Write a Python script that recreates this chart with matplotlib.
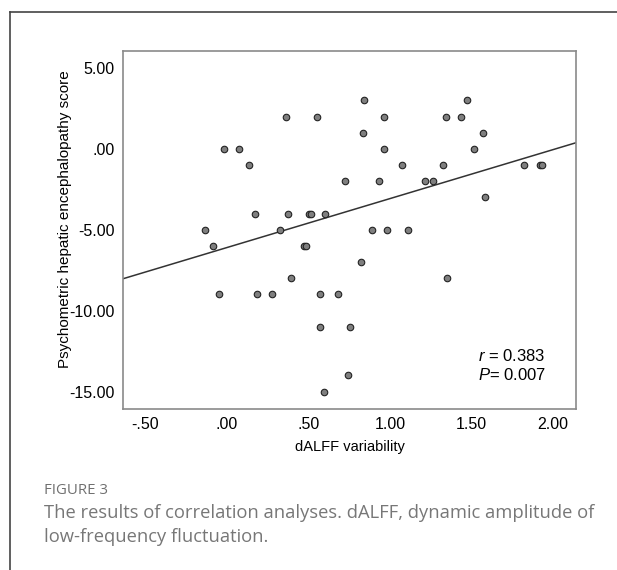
import numpy as np
import matplotlib.pyplot as plt
from matplotlib.lines import Line2D

# dALFF variability (x) vs psychometric hepatic encephalopathy score (y)
dalff = [0.842, 0.362, 0.552, 0.833, -0.017, 0.074, 0.133, 0.724,
         0.172, 0.374, 0.501, 0.513, 0.603, -0.135, 0.325, -0.086,
         0.474, 0.485, 0.822, 0.393, 1.472, 0.963, 1.344, 1.434,
         1.572, 0.963, 1.513, 1.072, 1.323, 1.822, 1.920, 1.934,
         0.934, 1.213, 1.264, 1.583, 0.891, 0.983, 1.112, 1.352,
         -0.047, 0.184, 0.274, 0.572, 0.683, 0.572, 0.753, 0.742, 0.593]
phes = [3, 2, 2, 1, 0, 0, -1, -2,
        -4, -4, -4, -4, -4, -5, -5, -6,
        -6, -6, -7, -8, 3, 2, 2, 2,
        1, 0, 0, -1, -1, -1, -1, -1,
        -2, -2, -2, -3, -5, -5, -5, -8,
        -9, -9, -9, -9, -9, -11, -11, -14, -15]

xticks = [-0.5, 0.0, 0.5, 1.0, 1.5, 2.0]
xticklabels = ['-.50', '.00', '.50', '1.00', '1.50', '2.00']
yticks = [5, 0, -5, -10, -15]
yticklabels = ['5.00', '.00', '-5.00', '-10.00', '-15.00']

plt.rcParams['font.family'] = 'Liberation Sans'
plt.rcParams['mathtext.fontset'] = 'custom'
plt.rcParams['mathtext.rm'] = 'Liberation Sans'
plt.rcParams['mathtext.it'] = 'Liberation Sans:italic'

W, H = 617, 570
fig = plt.figure(figsize=(W / 100, H / 100), dpi=100)
ax = fig.add_axes([123 / W, 1 - 408.5 / H, (576 - 123) / W, (408.5 - 50.7) / H])

xlim = (-0.638, 2.141)
ylim = (-16.05, 6.07)

# regression line
k, n = np.polyfit(dalff, phes, 1)
xs = np.array(xlim)
ax.plot(xs, k * xs + n, color='#333333', lw=1.1, zorder=2)

ax.scatter(dalff, phes, s=22, facecolor='#7f7f7f', edgecolor='#222222',
           linewidths=0.8, zorder=3)

ax.set_xlim(xlim)
ax.set_ylim(ylim)
ax.set_xticks(xticks)
ax.set_xticklabels(xticklabels)
ax.set_yticks(yticks)
ax.set_yticklabels(yticklabels)
ax.tick_params(length=0, labelsize=11.5, pad=6)
for s in ax.spines.values():
    s.set_color('#8a8a8a')
    s.set_linewidth(1.2)

fig.text(350 / W, 1 - 447 / H, 'dALFF variability', ha='center', va='center', fontsize=10.5)
fig.text(65 / W, 1 - 219 / H, 'Psychometric hepatic encephalopathy score',
         ha='center', va='center', rotation=90, fontsize=11)

ax.text(478 / W, 1 - 356 / H, '$r$ = 0.383', transform=fig.transFigure,
        ha='left', va='center', fontsize=12)
ax.text(478 / W, 1 - 375 / H, '$P$= 0.007', transform=fig.transFigure,
        ha='left', va='center', fontsize=12)

# outer frame (top and left lines)
fig.add_artist(Line2D([9.5 / W, 1], [1 - 12.3 / H, 1 - 12.3 / H], color='#444444', lw=1.2))
fig.add_artist(Line2D([9.5 / W, 9.5 / W], [0, 1 - 12.3 / H], color='#444444', lw=1.2))

# caption
fig.text(44 / W, 1 - 490 / H, 'FIGURE 3', family='Open Sans', fontsize=10.8,
         color='#707070', ha='left', va='center')
fig.text(44 / W, 1 - 512.7 / H, 'The results of correlation analyses. dALFF, dynamic amplitude of',
         family='Open Sans', fontsize=13.2, color='#777777', ha='left', va='center')
fig.text(44 / W, 1 - 536.7 / H, 'low-frequency fluctuation.',
         family='Open Sans', fontsize=13.2, color='#777777', ha='left', va='center')

fig.savefig('out.png', dpi=100)
